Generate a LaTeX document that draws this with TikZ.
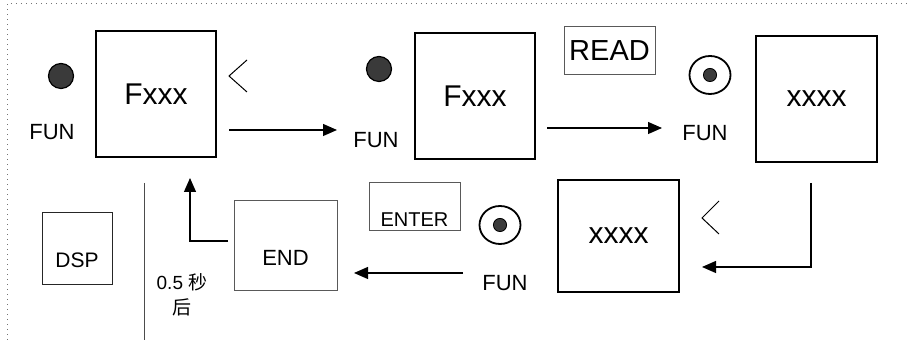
\documentclass[tikz,border=0pt]{standalone}
\usepackage{fontspec}
\setmainfont{Liberation Sans}
\newfontfamily\cjk{Noto Sans CJK SC}
\usepackage{tikz}
\usetikzlibrary{arrows.meta,shapes.geometric}
\definecolor{lampgray}{RGB}{58,58,58}

\begin{document}
\begin{tikzpicture}[
    x=0.5pt, y=-0.5pt,
    >={Triangle[length=7pt,width=6pt]},
    panel/.style={rectangle,draw,line width=1pt,minimum width=60pt,minimum height=63pt,inner sep=0pt,font=\fontsize{15}{18}\selectfont},
    keybox/.style={rectangle,draw=black!65,line width=0.5pt,minimum width=45.5pt,minimum height=24pt,inner sep=0pt},
    lamp/.style={circle,draw,fill=lampgray,line width=0.6pt,minimum size=12.5pt,inner sep=0pt},
    blink/.style={ellipse,draw,line width=0.9pt,minimum width=20.5pt,minimum height=19pt,inner sep=0pt,
      path picture={\filldraw[fill=lampgray,draw=black,line width=0.4pt] (path picture bounding box.center) circle (3.3pt);}},
    tag/.style={font=\fontsize{11}{13}\selectfont,inner sep=0pt},
    flow/.style={->,line width=0.6pt}
  ]
  \useasboundingbox (0,0) rectangle (910,340);
  \draw[black!55, dotted, line width=0.5pt] (7,340) -- (7,4) -- (908,4);

  % upper row
  \node[lamp]  (lamp1) at (61,76) {};
  \node[tag]   (fun1)  at (52,132) {FUN};
  \node[panel] (F1)    at (156,94) {Fxxx};
  \draw[line width=0.5pt] (247,60) -- (229,76) -- (247,92);
  \node[lamp]  (lamp2) at (379,69) {};
  \node[tag]   (fun2)  at (376,140) {FUN};
  \node[panel] (F2)    at (475,96) {Fxxx};
  \node[keybox,font=\fontsize{14.5}{17}\selectfont] (read) at (609.5,51) {READ};
  \node[blink] (lamp3) at (710,75) {};
  \node[tag]   (fun3)  at (705,133) {FUN};
  \node[panel,minimum width=60.5pt] (X3) at (816.5,99) {xxxx};

  % lower row
  \node[panel,minimum width=60.5pt,minimum height=56pt] (X4) at (618.5,236) {xxxx};
  \draw[line width=0.5pt] (719,201) -- (702,218) -- (719,234);
  \node[blink] (lamp4) at (500,225) {};
  \node[tag]   (fun4)  at (505,283) {FUN};
  \node[keybox,font=\fontsize{10}{12}\selectfont,text height=19.2pt,text depth=0pt] (enter) at (414.5,207) {ENTER};
  \node[keybox,minimum width=51.5pt,minimum height=45pt,font=\fontsize{11}{13}\selectfont,text height=19.9pt,text depth=0pt] (END) at (285.5,246) {END};
  \node[keybox,draw=black!85,minimum width=35pt,minimum height=36pt,font=\fontsize{10.5}{12}\selectfont,text height=18.5pt,text depth=0pt] (DSP) at (77,249) {DSP};
  \node[align=center,inner sep=0pt,font=\fontsize{9.5}{12.5}\selectfont] (delay) at (182,295) {0.5 {\cjk 秒}\\{\cjk 后}};
  \draw[black!70,line width=0.5pt] (144,183) -- (144,340);

  \coordinate (a1s) at (229,130);
  \coordinate (a1e) at (337,130);
  \coordinate (a2s) at (547,128);
  \coordinate (a2e) at (662,128);
  \coordinate (r0)  at (811,183);
  \coordinate (r1)  at (702,267);
  \coordinate (b0)  at (463,273);
  \coordinate (b1)  at (354,273);
  \coordinate (u0)  at (228,241);
  \coordinate (u1)  at (190,178);
  \draw[flow] (a1s) -- (a1e);
  \draw[flow] (a2s) -- (a2e);
  \draw[flow] (r0) |- (r1);
  \draw[flow] (b0) -- (b1);
  \draw[flow] (u0) -| (u1);
\end{tikzpicture}
\end{document}
